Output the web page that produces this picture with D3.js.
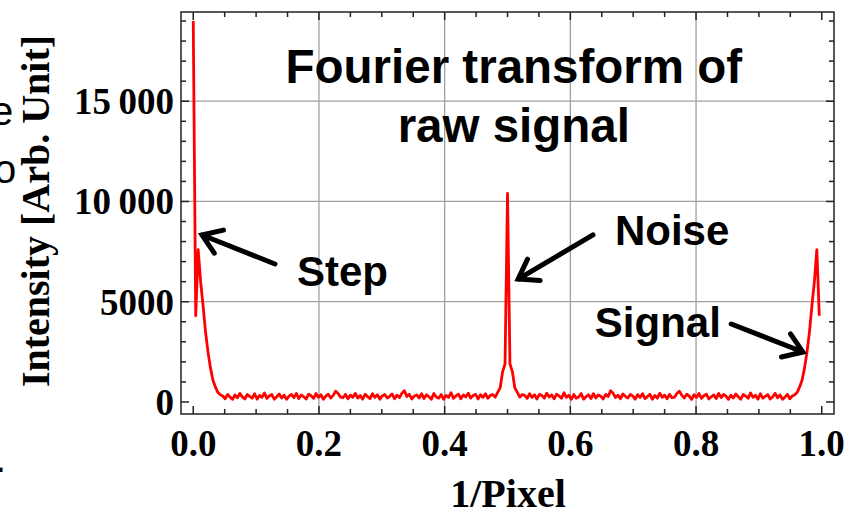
<!DOCTYPE html>
<html>
<head>
<meta charset="utf-8">
<script src="https://cdn.jsdelivr.net/npm/d3@7"></script>
<style>
  body { margin: 0; background: #fff; overflow: hidden; }
  svg { display: block; }
</style>
</head>
<body>
<div id="chart"></div>
<script>
// FFT of a 256 pixel line, k = 0 .. 255, plotted against k / 256
const nPixels = 256;

const intensity = [
  19000, 4300, 7600, 6000, 4800, 3500, 2500, 1700, 1100, 750, 480, 360, 300,
  160, 380, 240, 130, 350, 210, 430, 250, 150, 370, 280, 190, 410, 140, 330, 230,
  450, 180, 300, 370, 140, 260, 400, 200, 340, 130, 290, 380, 220, 430, 170, 350,
  260, 150, 390, 310, 180, 420, 230, 360, 130, 290, 390, 200, 330, 540, 420, 240,
  210, 380, 160, 340, 230, 430, 190, 320, 140, 380, 270, 170, 410, 230, 360, 140,
  300, 370, 200, 280, 400, 160, 340, 220, 440, 560, 270, 380, 150, 290, 350, 200,
  410, 170, 360, 260, 140, 420, 250, 190, 370, 130, 330, 230, 460, 180, 300, 390,
  160, 350, 250, 440, 190, 320, 380, 150, 360, 230, 410, 180, 330, 370, 240, 480,
  700, 1500, 1900, 10400,
  1900, 1500, 700,
  480, 240, 370, 330, 180, 410, 230, 360, 150, 380, 320, 190, 440, 250, 350, 160,
  390, 300, 180, 460, 230, 330, 130, 370, 190, 250, 420, 140, 260, 360, 170, 410,
  200, 350, 290, 150, 380, 270, 560, 440, 220, 340, 160, 400, 280, 200, 370, 300,
  140, 360, 230, 410, 170, 270, 380, 140, 320, 190, 430, 230, 340, 160, 380, 210,
  240, 420, 540, 330, 200, 390, 290, 130, 360, 230, 420, 180, 310, 390, 150, 260,
  350, 170, 430, 220, 380, 290, 130, 340, 200, 400, 260, 140, 370, 300, 180, 450,
  230, 330, 140, 410, 190, 280, 370, 150, 250, 430, 210, 350, 130, 240, 380, 160,
  300, 360, 480, 750, 1100, 1700, 2500, 3500, 4800, 6000, 7600, 4300
];

const xTicks = [0, 0.2, 0.4, 0.6, 0.8, 1.0];
const xTickLabels = ["0.0", "0.2", "0.4", "0.6", "0.8", "1.0"];
const yTicks = [0, 5000, 10000, 15000];
const yTickLabels = ["0", "5000", "10\u2009000", "15\u2009000"];

const titleLines = ["Fourier transform of", "raw signal"];

// annotations in data units: label position, arrow tail and tip
const notes = [
  { label: "Step",   at: [0.165, 5790], tail: [0.130, 6880], tip: [0.0139, 8330] },
  { label: "Noise",  at: [0.671, 7830], tail: [0.636, 8330], tip: [0.517, 6130] },
  { label: "Signal", at: [0.639, 3240], tail: [0.856, 3890], tip: [0.970, 2490] }
];

const width = 854;
const height = 515;
const frame = { left: 181, right: 834, top: 12, bottom: 414 };

const x = d3.scaleLinear()
  .domain([-0.0195, 1.0195])
  .range([frame.left, frame.right]);

const y = d3.scaleLinear()
  .domain([-600, 19450])
  .range([frame.bottom, frame.top]);

const svg = d3.select("#chart")
  .append("svg")
  .attr("width", width)
  .attr("height", height);

// slide text cut off by the left edge (also cut in the original)
svg.append("g")
  .attr("font-family", "Liberation Sans, Arial, sans-serif")
  .attr("font-size", 40)
  .call(g => g.append("text").attr("x", -9).attr("y", 125).text("e"))
  .call(g => g.append("text").attr("x", -6).attr("y", 183).text("o"))
  .call(g => g.append("text").attr("x", -5).attr("y", 472).text("."));

// grid
svg.append("g")
  .attr("stroke", "#a0a0a0")
  .attr("stroke-width", 1.3)
  .call(g => g.selectAll("line.gx")
    .data(xTicks.slice(1, -1))
    .join("line")
    .attr("x1", d => x(d)).attr("x2", d => x(d))
    .attr("y1", frame.top).attr("y2", frame.bottom))
  .call(g => g.selectAll("line.gy")
    .data(yTicks.slice(1))
    .join("line")
    .attr("class", "gy")
    .attr("x1", frame.left).attr("x2", frame.right)
    .attr("y1", d => y(d)).attr("y2", d => y(d)));

// title over the grid
svg.append("g")
  .attr("font-family", "Liberation Sans, Arial, sans-serif")
  .attr("font-weight", "bold")
  .attr("font-size", 47.5)
  .attr("text-anchor", "middle")
  .selectAll("text")
  .data(titleLines)
  .join("text")
  .attr("x", x(0.51))
  .attr("y", (d, i) => y(i === 0 ? 15910 : 12970))
  .text(d => d);

// spectrum
const line = d3.line()
  .x((d, i) => x(i / nPixels))
  .y(d => y(d));

svg.append("path")
  .datum(intensity)
  .attr("fill", "none")
  .attr("stroke", "#ff0000")
  .attr("stroke-width", 2.8)
  .attr("stroke-linejoin", "round")
  .attr("d", line);

// frame with ticks on all four sides
const xMinor = d3.range(0, 1.0001, 0.05);
const yMinor = d3.range(0, 19001, 1000);

const axes = svg.append("g").attr("stroke", "#222").attr("stroke-width", 1.5);

axes.append("rect")
  .attr("x", frame.left).attr("y", frame.top)
  .attr("width", frame.right - frame.left)
  .attr("height", frame.bottom - frame.top)
  .attr("fill", "none");

const isMajorX = d => xTicks.some(t => Math.abs(t - d) < 1e-6);
const isMajorY = d => yTicks.includes(d);

axes.selectAll("line.tb")
  .data(xMinor)
  .join("line")
  .attr("x1", d => x(d)).attr("x2", d => x(d))
  .attr("y1", frame.bottom).attr("y2", d => frame.bottom - (isMajorX(d) ? 8 : 5));

axes.selectAll("line.tt")
  .data(xMinor)
  .join("line")
  .attr("class", "tt")
  .attr("x1", d => x(d)).attr("x2", d => x(d))
  .attr("y1", frame.top).attr("y2", d => frame.top + (isMajorX(d) ? 8 : 5));

axes.selectAll("line.tl")
  .data(yMinor)
  .join("line")
  .attr("class", "tl")
  .attr("y1", d => y(d)).attr("y2", d => y(d))
  .attr("x1", frame.left).attr("x2", d => frame.left + (isMajorY(d) ? 8 : 5));

axes.selectAll("line.tr")
  .data(yMinor)
  .join("line")
  .attr("class", "tr")
  .attr("y1", d => y(d)).attr("y2", d => y(d))
  .attr("x1", frame.right).attr("x2", d => frame.right - (isMajorY(d) ? 8 : 5));

// tick labels
const tickFont = "Liberation Serif, Times New Roman, serif";

svg.append("g")
  .attr("font-family", tickFont)
  .attr("font-weight", "bold")
  .attr("font-size", 37)
  .attr("text-anchor", "middle")
  .selectAll("text")
  .data(xTicks)
  .join("text")
  .attr("x", d => x(d))
  .attr("y", 456)
  .text((d, i) => xTickLabels[i]);

svg.append("g")
  .attr("font-family", tickFont)
  .attr("font-weight", "bold")
  .attr("font-size", 37)
  .attr("text-anchor", "end")
  .selectAll("text")
  .data(yTicks)
  .join("text")
  .attr("x", 174)
  .attr("y", d => y(d) + 13)
  .text((d, i) => yTickLabels[i]);

// axis titles
svg.append("text")
  .attr("font-family", tickFont)
  .attr("font-weight", "bold")
  .attr("font-size", 40)
  .attr("text-anchor", "middle")
  .attr("x", 508)
  .attr("y", 507)
  .text("1/Pixel");

svg.append("text")
  .attr("font-family", tickFont)
  .attr("font-weight", "bold")
  .attr("font-size", 40)
  .attr("text-anchor", "middle")
  .attr("transform", "translate(49,211) rotate(-90)")
  .text("Intensity [Arb. Unit]");

// annotations with open arrow heads
const ann = svg.append("g");

ann.selectAll("text")
  .data(notes)
  .join("text")
  .attr("font-family", "Liberation Sans, Arial, sans-serif")
  .attr("font-weight", "bold")
  .attr("font-size", 42)
  .attr("x", d => x(d.at[0]))
  .attr("y", d => y(d.at[1]))
  .text(d => d.label);

const arrowPath = d => {
  const x0 = x(d.tail[0]), y0 = y(d.tail[1]);
  const x1 = x(d.tip[0]), y1 = y(d.tip[1]);
  const a = Math.atan2(y0 - y1, x0 - x1);
  const len = 22, spread = 0.6;
  const w1 = [x1 + len * Math.cos(a + spread), y1 + len * Math.sin(a + spread)];
  const w2 = [x1 + len * Math.cos(a - spread), y1 + len * Math.sin(a - spread)];
  return `M${x0},${y0}L${x1},${y1}M${w1}L${x1},${y1}L${w2}`;
};

ann.selectAll("path")
  .data(notes)
  .join("path")
  .attr("fill", "none")
  .attr("stroke", "#000")
  .attr("stroke-width", 5)
  .attr("stroke-linecap", "round")
  .attr("stroke-linejoin", "miter")
  .attr("d", arrowPath);
</script>
</body>
</html>
